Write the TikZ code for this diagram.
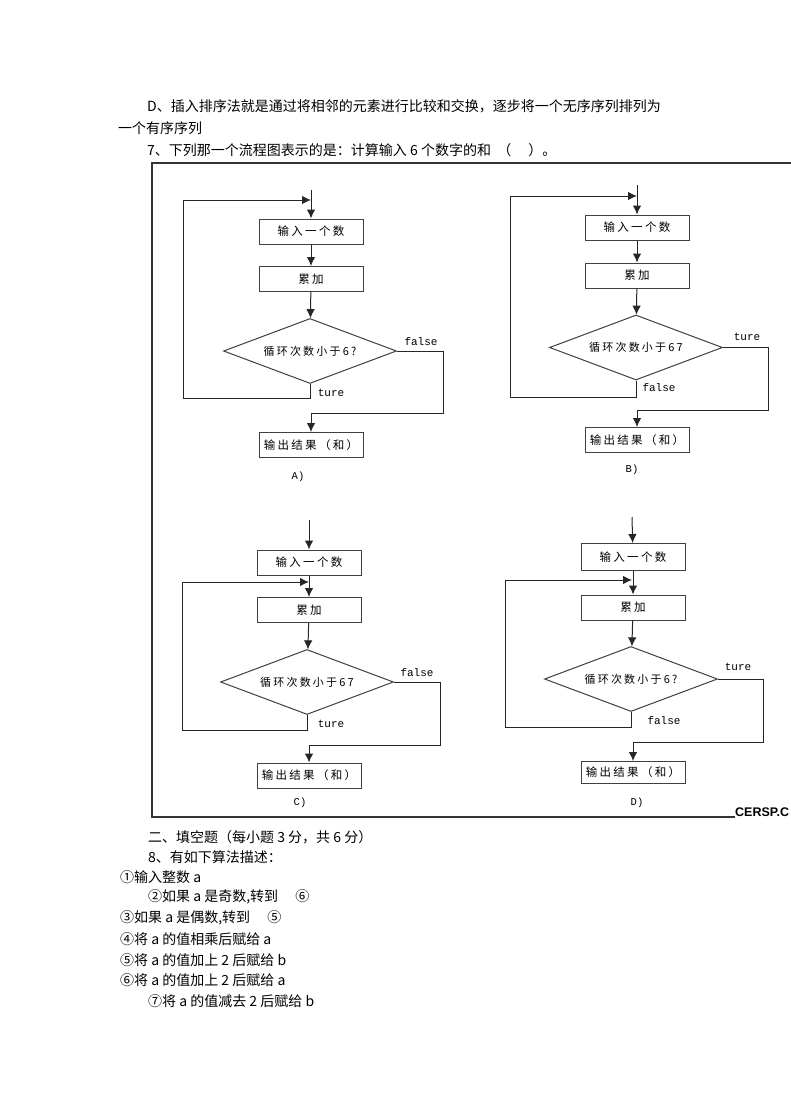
\documentclass[tikz,border=0pt]{standalone}
\usepackage{fontspec}
\setmainfont{Noto Sans CJK SC}
\newfontfamily\boxfont[LetterSpace=20]{Noto Sans CJK SC}
\newfontfamily\labelfont{Liberation Mono}
\newfontfamily\markfont{Liberation Sans}
\usetikzlibrary{positioning}
\usetikzlibrary{shapes.geometric}
\usetikzlibrary{arrows.meta}

\begin{document}
\begin{tikzpicture}[x=1pt, y=-1pt]
  \tikzstyle{line}=[anchor=west, inner sep=0pt, font=\fontsize{14}{16}\selectfont]
  \tikzstyle{process}=[rectangle, draw=black!75, line width=1pt, minimum width=104, minimum height=25, inner sep=0pt, font=\boxfont\fontsize{11.5}{13}\selectfont]
  \tikzstyle{decision}=[diamond, aspect=2.66, draw=black!75, line width=1pt, minimum width=173, minimum height=65, inner sep=0pt, font=\boxfont\fontsize{11}{13}\selectfont]
  \tikzstyle{connect}=[-{Latex[length=9pt, width=8.5pt]}, line width=1pt, draw=black!85]
  \tikzstyle{branch}=[font=\labelfont\fontsize{11}{12}\selectfont, inner sep=0pt]
  \tikzstyle{caption}=[font=\labelfont\fontsize{10.5}{12}\selectfont, inner sep=0pt]

  \useasboundingbox (0,0) rectangle (790,1119);
  \fill[white] (0,0) rectangle (790,1119);

  \node[line] (q6d) at (147,106) {D、插入排序法就是通过将相邻的元素进行比较和交换，逐步将一个无序序列排列为};
  \node[line] (q6e) at (118,128) {一个有序序列};
  \node[line] (q7) at (147,150) {7、下列那一个流程图表示的是：计算输入 6 个数字的和 \ （\quad\ ）。};

  \draw[line width=1.4pt, black!80] (800,163) -- (152,163) -- (152,817) -- (735,817);
  \node[anchor=west, inner sep=0pt, font=\markfont\bfseries\fontsize{12.5}{12}\selectfont] (mark) at (735,812) {CERSP.C};

  % A
  \node[process] (inA) at (311,231.5) {输入一个数};
  \node[process] (addA) at (311,279) {累加};
  \node[decision] (testA) at (310,351) {循环次数小于6?};
  \node[process] (outA) at (311,445) {输出结果（和）};
  \node[caption] (capA) at (298,477) {A)};
  \coordinate (topA) at (311,190);
  \coordinate (joinA) at (311,200);
  \coordinate (backA) at (183,398);
  \coordinate (exitA) at (443,413);

  \path (topA) edge [connect] (inA)
        (inA) edge [connect] (addA)
        (addA) edge [connect] (testA);
  \draw[connect] (testA.south) |- (backA) |- (joinA);
  \draw[connect] (testA.east) -| (exitA) -| (outA.north);
  \node[branch] (falseA) at (421,342) {false};
  \node[branch] (tureA) at (331,393) {ture};

  % B
  \node[process] (inB) at (637,227.5) {输入一个数};
  \node[process] (addB) at (637,275.5) {累加};
  \node[decision] (testB) at (636,347.5) {循环次数小于67};
  \node[process] (outB) at (637,440) {输出结果（和）};
  \node[caption] (capB) at (632,470) {B)};
  \coordinate (topB) at (637,185);
  \coordinate (joinB) at (637,196);
  \coordinate (backB) at (510,397);
  \coordinate (exitB) at (768,410);

  \path (topB) edge [connect] (inB)
        (inB) edge [connect] (addB)
        (addB) edge [connect] (testB);
  \draw[connect] (testB.south) |- (backB) |- (joinB);
  \draw[connect] (testB.east) -| (exitB) -| (outB.north);
  \node[branch] (tureB) at (747,337) {ture};
  \node[branch] (falseB) at (659,388) {false};

  % C
  \node[process] (inC) at (309,562.5) {输入一个数};
  \node[process] (addC) at (309,610) {累加};
  \node[decision] (testC) at (307,682) {循环次数小于67};
  \node[process] (outC) at (309,775.5) {输出结果（和）};
  \node[caption] (capC) at (300,803) {C)};
  \coordinate (topC) at (309,520);
  \coordinate (joinC) at (309,582);
  \coordinate (backC) at (182,730);
  \coordinate (exitC) at (440,745);

  \path (topC) edge [connect] (inC)
        (inC) edge [connect] (addC)
        (addC) edge [connect] (testC);
  \draw[connect] (testC.south) |- (backC) |- (joinC);
  \draw[connect] (testC.east) -| (exitC) -| (outC.north);
  \node[branch] (falseC) at (417,673) {false};
  \node[branch] (tureC) at (331,724) {ture};

  % D
  \node[process, minimum height=27] (inD) at (633,557) {输入一个数};
  \node[process] (addD) at (633,607.5) {累加};
  \node[decision] (testD) at (631,679) {循环次数小于6?};
  \node[process, minimum height=22] (outD) at (633,772.5) {输出结果（和）};
  \node[caption] (capD) at (637,803) {D)};
  \coordinate (topD) at (632,517);
  \coordinate (joinD) at (632,580);
  \coordinate (backD) at (505,727);
  \coordinate (exitD) at (763,742);

  \path (topD) edge [connect] (inD)
        (inD) edge [connect] (addD)
        (addD) edge [connect] (testD);
  \draw[connect] (testD.south) |- (backD) |- (joinD);
  \draw[connect] (testD.east) -| (exitD) -| (outD.north);
  \node[branch] (tureD) at (738,667) {ture};
  \node[branch] (falseD) at (664,721) {false};

  \node[line] (part2) at (148,837) {二、填空题（每小题 3 分，共 6 分）};
  \node[line] (q8) at (148,857) {8、有如下算法描述：};
  \node[line] (s1) at (120,877) {①输入整数 a};
  \node[line] (s2) at (148,897) {②如果 a 是奇数,转到 \quad⑥};
  \node[line] (s3) at (120,918) {③如果 a 是偶数,转到 \quad⑤};
  \node[line] (s4) at (120,939) {④将 a 的值相乘后赋给 a};
  \node[line] (s5) at (120,960) {⑤将 a 的值加上 2 后赋给 b};
  \node[line] (s6) at (120,980) {⑥将 a 的值加上 2 后赋给 a};
  \node[line] (s7) at (148,1001) {⑦将 a 的值减去 2 后赋给 b};

\end{tikzpicture}
\end{document}
